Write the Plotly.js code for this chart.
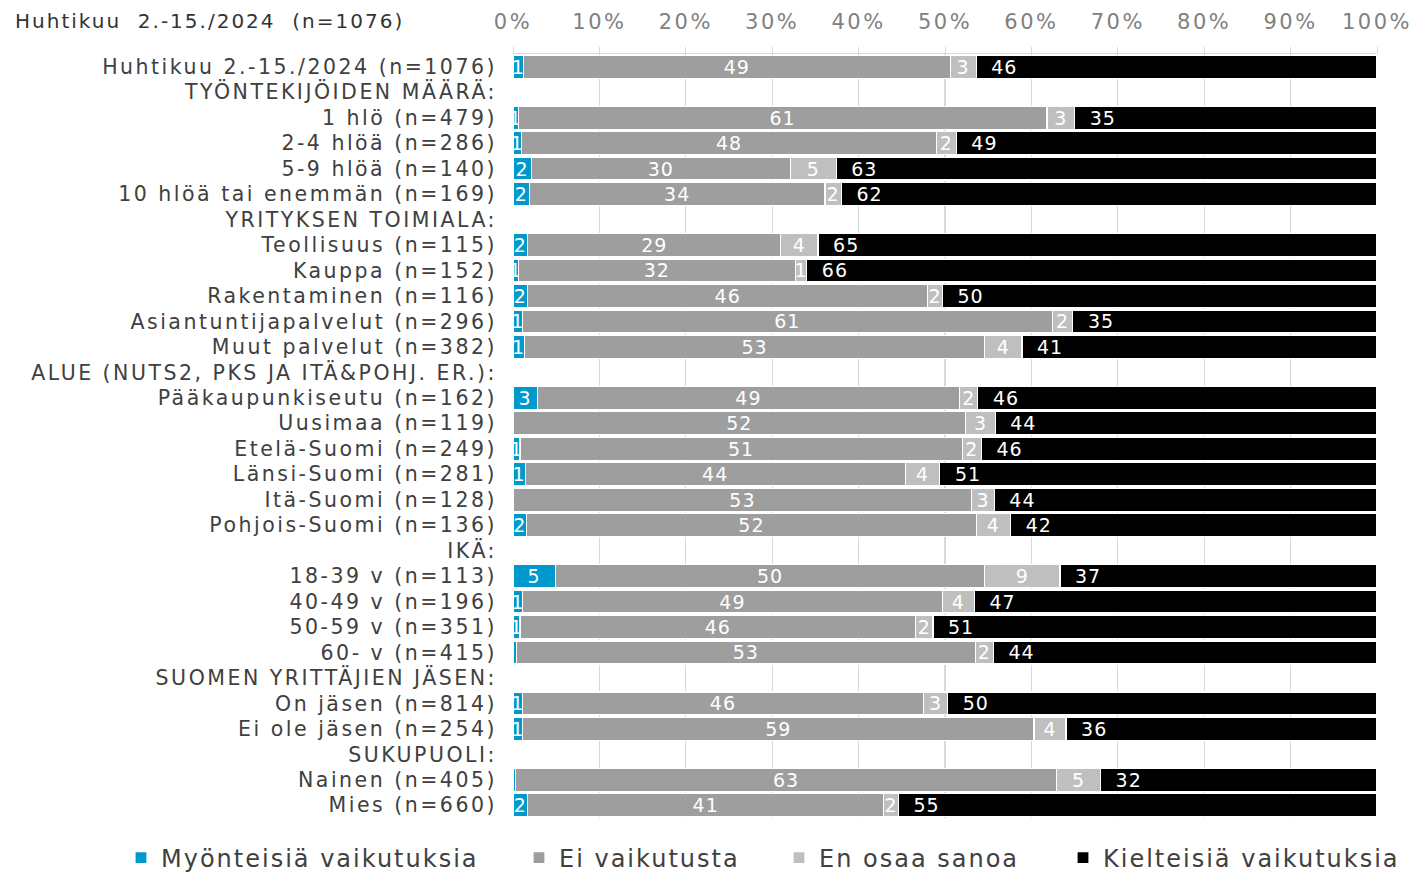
<!DOCTYPE html>
<html>
<head>
<meta charset="utf-8">
<script src="https://cdn.plot.ly/plotly-3.0.1.min.js"></script>
<style>
html,body{margin:0;padding:0;background:#fff;}
#chart{width:1414px;height:872px;}
#chart .ytick text{letter-spacing:2.5px;}
#chart .xtick text{letter-spacing:2.5px;}
#chart .gtitle{letter-spacing:2px;}
#chart text.bartext{letter-spacing:1px;}
</style>
</head>
<body>
<div id="chart"></div>
<script>
const categories = [
  "Huhtikuu 2.-15./2024 (n=1076)",
  "TYÖNTEKIJÖIDEN MÄÄRÄ:",
  "1 hlö (n=479)",
  "2-4 hlöä (n=286)",
  "5-9 hlöä (n=140)",
  "10 hlöä tai enemmän (n=169)",
  "YRITYKSEN TOIMIALA:",
  "Teollisuus (n=115)",
  "Kauppa (n=152)",
  "Rakentaminen (n=116)",
  "Asiantuntijapalvelut (n=296)",
  "Muut palvelut (n=382)",
  "ALUE (NUTS2, PKS JA ITÄ&POHJ. ER.):",
  "Pääkaupunkiseutu (n=162)",
  "Uusimaa (n=119)",
  "Etelä-Suomi (n=249)",
  "Länsi-Suomi (n=281)",
  "Itä-Suomi (n=128)",
  "Pohjois-Suomi (n=136)",
  "IKÄ:",
  "18-39 v (n=113)",
  "40-49 v (n=196)",
  "50-59 v (n=351)",
  "60- v (n=415)",
  "SUOMEN YRITTÄJIEN JÄSEN:",
  "On jäsen (n=814)",
  "Ei ole jäsen (n=254)",
  "SUKUPUOLI:",
  "Nainen (n=405)",
  "Mies (n=660)"
];
const seriesNames = ["Myönteisiä vaikutuksia", "Ei vaikutusta", "En osaa sanoa", "Kielteisiä vaikutuksia"];
const positive = [1.2,null,0.6,1.0,2.1,1.9,null,1.7,0.6,1.7,1.1,1.3,null,2.8,0,0.8,1.4,0,1.6,null,4.9,1.1,0.8,0.4,null,1.1,1.1,null,0.3,1.7];
const noEffect = [49.4,null,61.2,48.0,30.0,34.2,null,29.3,32.1,46.3,61.3,53.3,null,48.9,52.4,51.2,44.0,53.1,52.0,null,49.7,48.6,45.8,53.1,null,46.4,59.2,null,62.6,41.2];
const dontKnow = [3.0,null,3.2,2.3,5.3,1.9,null,4.3,1.3,1.7,2.4,4.3,null,2.1,3.4,2.2,4.0,2.6,4.0,null,8.7,3.7,2.0,2.1,null,2.8,3.7,null,5.1,1.7];
const negative = [46.4,null,35.0,48.7,62.6,62.0,null,64.7,66.0,50.3,35.2,41.1,null,46.2,44.2,45.8,50.6,44.3,42.4,null,36.7,46.6,51.4,44.4,null,49.7,36.0,null,32.0,55.4];
const tickValues = [0,10,20,30,40,50,60,70,80,90,100];
const tickLabels = ["0%","10%","20%","30%","40%","50%","60%","70%","80%","90%","100%"];
const colors = ["#0099CC","#9E9E9E","#BFBFBF","#000000"];

function labels(arr, pad) {
  return arr.map(v => {
    if (v === null) return "";
    const r = Math.round(v);
    return r === 0 ? "" : (pad ? "\u00a0\u00a0" + r : String(r));
  });
}

const allSeries = [positive, noEffect, dontKnow, negative];
const legendIds = ["legend", "legend2", "legend3", "legend4"];
const traces = allSeries.map((vals, i) => ({
  type: "bar",
  orientation: "h",
  name: seriesNames[i],
  y: categories,
  x: vals,
  text: labels(vals, i === 3),
  textposition: "inside",
  insidetextanchor: i === 3 ? "start" : "middle",
  constraintext: "none",
  textangle: 0,
  textfont: {family: "DejaVu Sans, Verdana, sans-serif", size: 19, color: "#ffffff"},
  insidetextfont: {family: "DejaVu Sans, Verdana, sans-serif", size: 19, color: "#ffffff"},
  marker: {color: colors[i], line: {color: "#ffffff", width: 1.2}},
  hoverinfo: "none",
  legend: legendIds[i],
  cliponaxis: false
}));

const legendFont = {family: "DejaVu Sans, Verdana, sans-serif", size: 24, color: "#404040"};
const legendX = [121, 519, 779, 1063];
const legendBase = {orientation: "h", xref: "container", yref: "container", y: 1 - 858/872, yanchor: "middle", xanchor: "left", font: legendFont, itemwidth: 30, bgcolor: "rgba(0,0,0,0)", tracegroupgap: 0};

const layout = {
  width: 1414, height: 872,
  margin: {l: 513, r: 37, t: 54, b: 54, pad: 0},
  paper_bgcolor: "#ffffff",
  plot_bgcolor: "#ffffff",
  barmode: "stack",
  bargap: 0.1,
  showlegend: true,
  title: {
    text: "Huhtikuu  2.-15./2024  (n=1076)",
    xref: "container", yref: "container",
    x: 15/1414, xanchor: "left",
    y: 1 - 21/872, yanchor: "middle",
    font: {family: "DejaVu Sans, Verdana, sans-serif", size: 20, color: "#333333"}
  },
  xaxis: {
    side: "top",
    range: [0, 100],
    tickvals: tickValues,
    ticktext: tickLabels,
    tickfont: {family: "DejaVu Sans, Verdana, sans-serif", size: 21, color: "#808080"},
    ticklabelstandoff: 9,
    showgrid: true,
    gridcolor: "#D9D9D9",
    gridwidth: 1.3,
    showline: true,
    linecolor: "#D9D9D9",
    linewidth: 1.3,
    ticks: "outside",
    ticklen: 6,
    tickcolor: "#D9D9D9",
    zeroline: false,
    fixedrange: true
  },
  yaxis: {
    type: "category",
    autorange: "reversed",
    tickfont: {family: "DejaVu Sans, Verdana, sans-serif", size: 20.5, color: "#404040"},
    ticks: "",
    ticklabelstandoff: 15,
    showgrid: false,
    showline: false,
    zeroline: false,
    fixedrange: true
  },
  legend: Object.assign({}, legendBase, {x: legendX[0]/1414}),
  legend2: Object.assign({}, legendBase, {x: legendX[1]/1414}),
  legend3: Object.assign({}, legendBase, {x: legendX[2]/1414}),
  legend4: Object.assign({}, legendBase, {x: legendX[3]/1414})
};

function spaceLegend() {
  document.querySelectorAll("#chart text").forEach(function (t) {
    if (seriesNames.indexOf(t.textContent) !== -1) {
      t.style.letterSpacing = "2px";
      t.setAttribute("letter-spacing", "2px");
    }
  });
  document.querySelectorAll("#chart .scrollbox").forEach(function (el) {
    el.removeAttribute("clip-path");
    el.style.clipPath = "none";
  });
}

Plotly.newPlot("chart", traces, layout, {displayModeBar: false, staticPlot: true}).then(function () {
  spaceLegend();
  setTimeout(spaceLegend, 50);
  setTimeout(spaceLegend, 300);
});
</script>
</body>
</html>
